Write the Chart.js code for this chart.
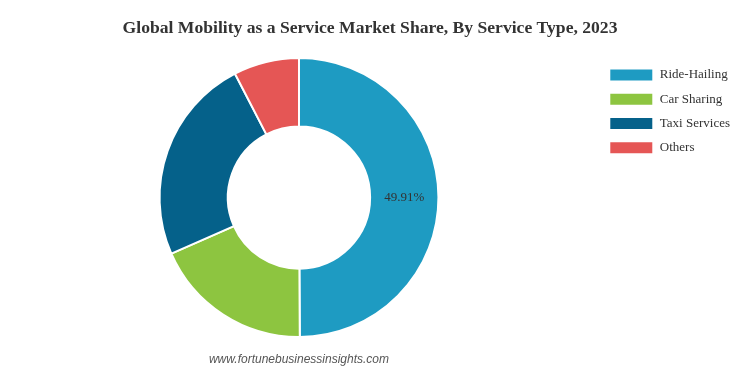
<!DOCTYPE html>
<html><head><meta charset="utf-8">
<script src="https://cdn.jsdelivr.net/npm/chart.js@4"></script>
<style>html,body{margin:0;padding:0;background:#fff;}#wrap{width:745px;height:372px;}</style>
</head><body><div id="wrap"><canvas id="c" width="745" height="372"></canvas></div>
<script>
const categories = ["Ride-Hailing", "Car Sharing", "Taxi Services", "Others"];
const shares = [49.91, 18.5, 24.0, 7.59];
const shownLabels = ["49.91%", "", "", ""];
const colors = ["#1E9BC2", "#8DC540", "#05618A", "#E55655"];

const labelPlugin = {
  id: 'sliceLabels',
  afterDatasetsDraw(chart) {
    const ctx = chart.ctx;
    const meta = chart.getDatasetMeta(0);
    ctx.save();
    ctx.font = '13px "Liberation Serif", "Times New Roman", serif';
    ctx.fillStyle = '#333';
    ctx.textAlign = 'center';
    ctx.textBaseline = 'middle';
    meta.data.forEach((arc, i) => {
      if (!shownLabels[i]) return;
      const p = arc.tooltipPosition();
      ctx.fillText(shownLabels[i], p.x, p.y);
    });
    ctx.restore();
  }
};

new Chart(document.getElementById('c'), {
  type: 'doughnut',
  data: {
    labels: categories,
    datasets: [{
      data: shares,
      backgroundColor: colors,
      borderColor: '#fff',
      borderWidth: 2
    }]
  },
  options: {
    responsive: false,
    animation: false,
    cutout: '51%',
    layout: { padding: { top: 0, bottom: 0, left: 0, right: 5 } },
    plugins: {
      tooltip: { enabled: false },
      title: {
        display: true,
        text: 'Global Mobility as a Service Market Share, By Service Type, 2023',
        font: { family: '"Liberation Serif", "Times New Roman", serif', size: 17.6, weight: 'bold' },
        color: '#333',
        padding: { top: 18, bottom: 18 }
      },
      subtitle: {
        display: true,
        position: 'bottom',
        fullSize: false,
        text: 'www.fortunebusinessinsights.com',
        font: { family: '"Liberation Sans", Arial, sans-serif', size: 12, style: 'italic' },
        color: '#555',
        padding: { top: 14.6, bottom: 5 }
      },
      legend: {
        position: 'right',
        align: 'start',
        fullSize: false,
        labels: {
          boxWidth: 44,
          boxHeight: 13,
          padding: 11.3,
          color: '#333',
          font: { family: '"Liberation Serif", "Times New Roman", serif', size: 13 }
        }
      }
    }
  },
  plugins: [labelPlugin]
});
</script>
</body></html>
